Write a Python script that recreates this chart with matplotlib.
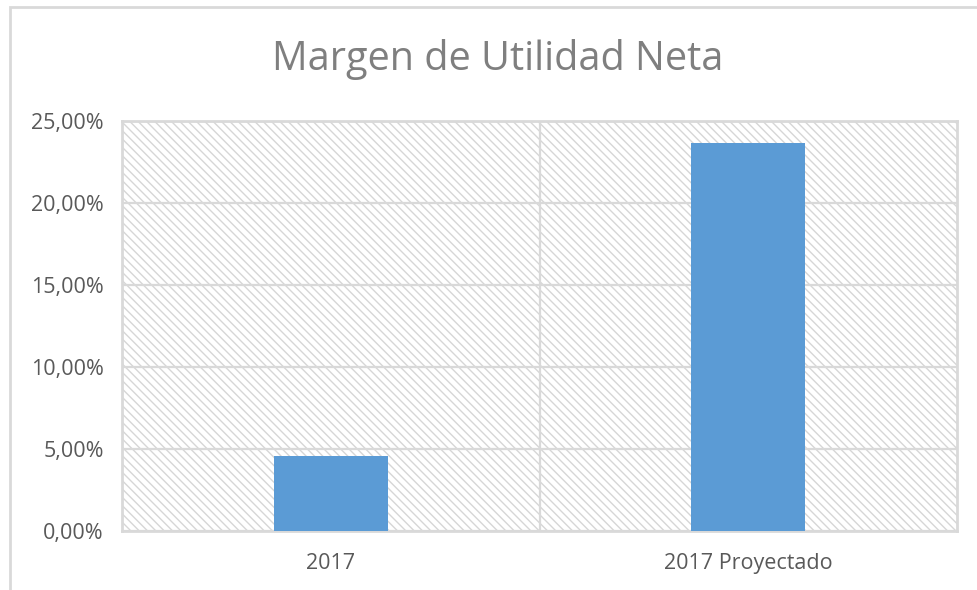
import matplotlib
matplotlib.use("Agg")
import matplotlib.pyplot as plt
import matplotlib.ticker as ticker
from matplotlib.patches import Rectangle

# data
categories = ["2017", "2017 Proyectado"]
margins = [4.57, 23.66]          # percent
y_ticks = [0, 5, 10, 15, 20, 25]

plt.rcParams["font.family"] = ["Open Sans", "DejaVu Sans"]
plt.rcParams["hatch.color"] = "#d6d6d6"
plt.rcParams["hatch.linewidth"] = 1.0

grid_col = "#d9d9d9"
text_col = "#595959"

fig = plt.figure(figsize=(9.77, 5.90), dpi=100)
ax = fig.add_axes([122 / 977, 1 - 531 / 590, 835 / 977, 410 / 590])

# hatched plot area background
ax.patch.set_facecolor("white")
ax.patch.set_hatch("\\\\\\\\")
ax.patch.set_edgecolor("#d6d6d6")
ax.patch.set_linewidth(0)

x = list(range(len(categories)))
ax.bar(x, margins, width=0.273, color="#5b9bd5", zorder=3)

ax.set_xlim(-0.5, len(categories) - 0.5)
ax.set_ylim(0, 25)
ax.yaxis.set_major_locator(ticker.FixedLocator(y_ticks))
ax.yaxis.set_major_formatter(
    ticker.FuncFormatter(lambda v, _: f"{v:.2f}".replace(".", ",") + "%")
)
ax.set_xticks(x)
ax.set_xticklabels(categories)

# gridlines + category separators
ax.grid(axis="y", color=grid_col, lw=1.6, zorder=1)
for sep in [i + 0.5 for i in x[:-1]]:
    ax.axvline(sep, color=grid_col, lw=1.6, zorder=1)
for s in ax.spines.values():
    s.set_color(grid_col)
    s.set_linewidth(2)
ax.set_axisbelow(True)

ax.tick_params(axis="both", length=0, labelsize=15.5, labelcolor=text_col)
ax.tick_params(axis="y", pad=13)
ax.tick_params(axis="x", pad=16)

fig.text(0.509, 1 - 60 / 590, "Margen de Utilidad Neta", ha="center",
         va="center", fontsize=28.5, color="#7f7f7f")

# outer chart frame (cropped on right and bottom)
fig.patches.append(Rectangle((10 / 977, -0.05), 1.05, 1 - 7 / 590 + 0.05,
                             transform=fig.transFigure, fill=False,
                             edgecolor=grid_col, lw=2, clip_on=False))

fig.savefig("out.png", dpi=100)
